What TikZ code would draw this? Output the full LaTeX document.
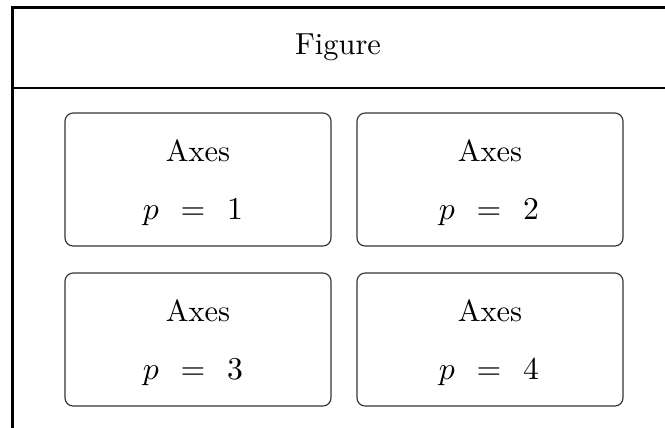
\documentclass[tikz,border=0pt]{standalone}
\begin{document}
\begin{tikzpicture}[x=0.345pt,y=-0.345pt,
  axbox/.style={draw=black!80,line width=0.4pt,rounded corners=2.8pt,minimum width=266*0.345pt,minimum height=133*0.345pt,inner sep=0pt},
  lbl/.style={inner sep=0pt,font=\fontsize{10.5}{12.6}\selectfont}]
\useasboundingbox (0,0) rectangle (665,427);
\coordinate (tl) at (12.5,7.5);
\coordinate (tr) at (668,7.5);
\coordinate (bl) at (12.5,430);
\coordinate (hl) at (12.5,88);
\coordinate (hr) at (668,88);
\draw[line width=1.05pt] (bl) -- (tl) -- (tr);
\draw[line width=0.4pt] (hl) -- (hr);
\node[lbl] (fig) at (338,47) {Figure};
\node[axbox] (b1) at (198,179.5) {};
\node[axbox] (b2) at (490,179.5) {};
\node[axbox] (b3) at (198,339.5) {};
\node[axbox] (b4) at (490,339.5) {};
\node[lbl] (t1) at (198,151) {Axes};
\node[lbl] (p1) at (193,212) {$p\hspace{4.5pt}=\hspace{4.5pt}1$};
\node[lbl] (t2) at (490,151) {Axes};
\node[lbl] (p2) at (489,212) {$p\hspace{4.5pt}=\hspace{4.5pt}2$};
\node[lbl] (t3) at (198,311) {Axes};
\node[lbl] (p3) at (193,372) {$p\hspace{4.5pt}=\hspace{4.5pt}3$};
\node[lbl] (t4) at (490,311) {Axes};
\node[lbl] (p4) at (489,372) {$p\hspace{4.5pt}=\hspace{4.5pt}4$};
\end{tikzpicture}
\end{document}
